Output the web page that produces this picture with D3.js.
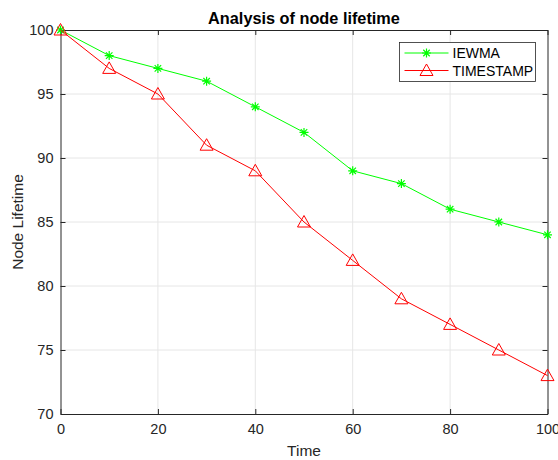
<!DOCTYPE html>
<html>
<head>
<meta charset="utf-8">
<script src="https://cdn.jsdelivr.net/npm/d3@7"></script>
<style>
body { margin: 0; background: #fff; }
text { font-family: "Liberation Sans", Arial, sans-serif; }
</style>
</head>
<body>
<svg id="drawing_region"></svg>
<script>
const time = [0, 10, 20, 30, 40, 50, 60, 70, 80, 90, 100];
const iewma = [100, 98, 97, 96, 94, 92, 89, 88, 86, 85, 84];
const timestamp = [100, 97, 95, 91, 89, 85, 82, 79, 77, 75, 73];
const xTicks = [0, 20, 40, 60, 80, 100];
const yTicks = [70, 75, 80, 85, 90, 95, 100];

const config = {
    width: 558,
    height: 460,
    margin: {top: 30, right: 10.5, bottom: 46, left: 60.5}
};

const svg = d3.select('#drawing_region')
    .attr('width', config.width)
    .attr('height', config.height);

const margin = config.margin;
const inner_width = config.width - margin.left - margin.right;
const inner_height = config.height - margin.top - margin.bottom;

const chart = svg.append('g')
    .attr('transform', `translate(${margin.left}, ${margin.top})`);

const xscale = d3.scaleLinear().domain([0, 100]).range([0, inner_width]);
const yscale = d3.scaleLinear().domain([70, 100]).range([inner_height, 0]);

// grid
chart.append('g').selectAll('line')
    .data(xTicks.slice(1, -1))
    .join('line')
    .attr('x1', d => xscale(d)).attr('x2', d => xscale(d))
    .attr('y1', 0).attr('y2', inner_height)
    .attr('stroke', '#e6e6e6').attr('stroke-width', 1);
chart.append('g').selectAll('line')
    .data(yTicks.slice(1, -1))
    .join('line')
    .attr('y1', d => yscale(d)).attr('y2', d => yscale(d))
    .attr('x1', 0).attr('x2', inner_width)
    .attr('stroke', '#e6e6e6').attr('stroke-width', 1);

// axes
function styleAxis(g) {
    g.select('.domain').attr('stroke', '#262626');
    g.selectAll('.tick line').attr('stroke', '#262626');
    g.selectAll('.tick text')
        .attr('fill', '#262626')
        .style('font-size', '14.5px')
        .style('font-family', '"Liberation Sans", Arial, sans-serif');
}

chart.append('g')
    .attr('transform', `translate(0, ${inner_height})`)
    .call(d3.axisBottom(xscale).tickValues(xTicks).tickSizeInner(-5).tickSizeOuter(0).tickPadding(10))
    .call(styleAxis);
chart.append('g')
    .call(d3.axisLeft(yscale).tickValues(yTicks).tickSizeInner(-5).tickSizeOuter(0).tickPadding(7))
    .call(styleAxis);
chart.append('g')
    .call(d3.axisTop(xscale).tickValues(xTicks).tickSizeInner(-5).tickSizeOuter(0).tickFormat(''))
    .call(styleAxis);
chart.append('g')
    .attr('transform', `translate(${inner_width}, 0)`)
    .call(d3.axisRight(yscale).tickValues(yTicks).tickSizeInner(-5).tickSizeOuter(0).tickFormat(''))
    .call(styleAxis);

// lines
const series = [
    {name: 'IEWMA', values: iewma, color: '#00ff00', marker: 'star'},
    {name: 'TIMESTAMP', values: timestamp, color: '#ff0000', marker: 'triangle'}
];

const line = d3.line()
    .x((d, i) => xscale(time[i]))
    .y(d => yscale(d));

function drawMarker(g, type, color) {
    if (type === 'star') {
        const r = 4.5;
        const path = d3.path();
        path.moveTo(-r, 0); path.lineTo(r, 0);
        path.moveTo(0, -r); path.lineTo(0, r);
        const k = r * 0.72;
        path.moveTo(-k, -k); path.lineTo(k, k);
        path.moveTo(-k, k); path.lineTo(k, -k);
        g.append('path').attr('d', path.toString())
            .attr('stroke', color).attr('stroke-width', 1.2).attr('fill', 'none');
    } else {
        g.append('path').attr('d', 'M0,-6.5L6.5,5L-6.5,5Z')
            .attr('stroke', color).attr('stroke-width', 1).attr('fill', 'none');
    }
}

series.forEach(s => {
    chart.append('path')
        .attr('d', line(s.values))
        .attr('fill', 'none')
        .attr('stroke', s.color)
        .attr('stroke-width', 1);
    s.values.forEach((v, i) => {
        const g = chart.append('g')
            .attr('transform', `translate(${xscale(time[i])}, ${yscale(v)})`);
        drawMarker(g, s.marker, s.color);
    });
});

// title & labels
svg.append('text')
    .attr('x', margin.left + inner_width / 2)
    .attr('y', 24)
    .attr('text-anchor', 'middle')
    .style('font-size', '16.3px')
    .style('font-weight', 'bold')
    .attr('fill', '#000')
    .text('Analysis of node lifetime');

svg.append('text')
    .attr('x', margin.left + inner_width / 2)
    .attr('y', 456)
    .attr('text-anchor', 'middle')
    .style('font-size', '15.5px')
    .attr('fill', '#262626')
    .text('Time');

svg.append('text')
    .attr('transform', `translate(23, ${margin.top + inner_height / 2}) rotate(-90)`)
    .attr('text-anchor', 'middle')
    .style('font-size', '15.5px')
    .attr('fill', '#262626')
    .text('Node Lifetime');

// legend
const legend = svg.append('g').attr('transform', 'translate(399.5, 42.5)');
legend.append('rect')
    .attr('width', 136).attr('height', 39)
    .attr('fill', '#fff').attr('stroke', '#262626').attr('stroke-width', 0.8);
series.forEach((s, i) => {
    const y = 10.5 + i * 17.5;
    legend.append('line')
        .attr('x1', 5).attr('x2', 49).attr('y1', y).attr('y2', y)
        .attr('stroke', s.color).attr('stroke-width', 1);
    const g = legend.append('g').attr('transform', `translate(27, ${y})`);
    drawMarker(g, s.marker, s.color);
    legend.append('text')
        .attr('x', 53).attr('y', y + 5)
        .style('font-size', '14px')
        .attr('fill', '#000')
        .text(s.name);
});
</script>
</body>
</html>
